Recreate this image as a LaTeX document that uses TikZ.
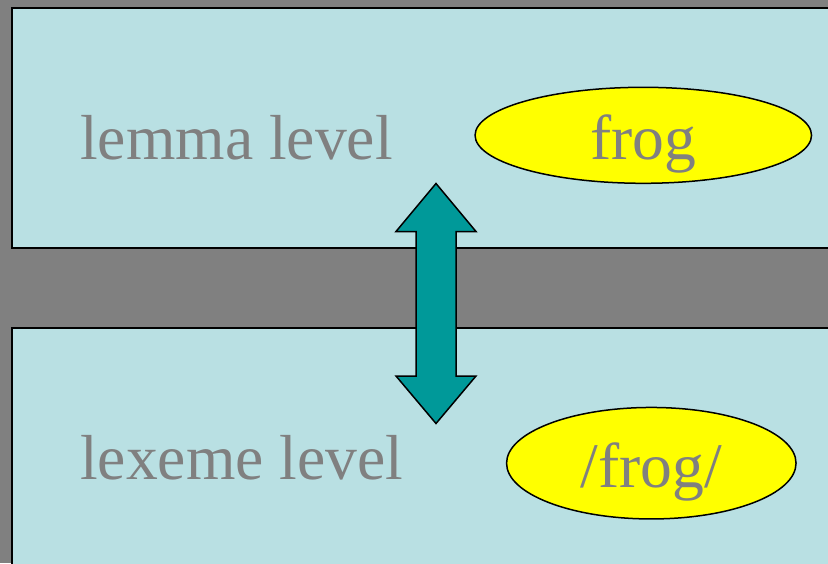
\documentclass[tikz,border=0pt]{standalone}
\usepackage{fontspec}
\setmainfont{Liberation Serif}
\usetikzlibrary{shapes.geometric}
\definecolor{bggray}{RGB}{128,128,128}
\definecolor{panel}{RGB}{185,224,227}
\definecolor{teal2}{RGB}{0,153,153}
\definecolor{txtgray}{RGB}{128,128,128}
\definecolor{ylw}{RGB}{255,255,0}
\tikzset{
  panelbox/.style={fill=panel, draw=black, line width=2pt},
  bubble/.style={ellipse, draw=black, fill=ylw, line width=1.5pt, inner sep=0pt},
  bigtext/.style={text=txtgray, font=\fontsize{63.6}{70}\selectfont, inner sep=0pt},
  arrowshape/.style={fill=teal2, draw=black, line width=1.5pt, line join=miter}
}
\begin{document}
\begin{tikzpicture}[x=1pt,y=-1pt]
\useasboundingbox (0,0) rectangle (828,563);
\clip (0,0) rectangle (828,563);
\fill[bggray] (0,0) rectangle (828,563);
\draw[panelbox] (12,8) rectangle (845,247.5);
\draw[panelbox] (12,328) rectangle (845,580);
\draw[arrowshape] (436,183.5) -- (476,231.5) -- (456,231.5) -- (456,376) -- (476,376)
  -- (436,423.5) -- (396,376) -- (416,376) -- (416,231.5) -- (396,231.5) -- cycle;
\node[bubble, minimum width=336.5pt, minimum height=96pt] (lemmaell) at (643.3,135.3) {};
\node[bubble, minimum width=289.5pt, minimum height=111.5pt] (lexell) at (651.3,463.2) {};
\node[bigtext, anchor=base west] (lemmatxt) at (80,159.3) {lemma level};
\node[bigtext, anchor=base west] (lextxt) at (80,479.3) {lexeme level};
\node[bigtext, anchor=base] (frog) at (643.3,159.3) {frog};
\node[bigtext, anchor=base] (pfrog) at (651.5,487.3) {/frog/};
\end{tikzpicture}
\end{document}
